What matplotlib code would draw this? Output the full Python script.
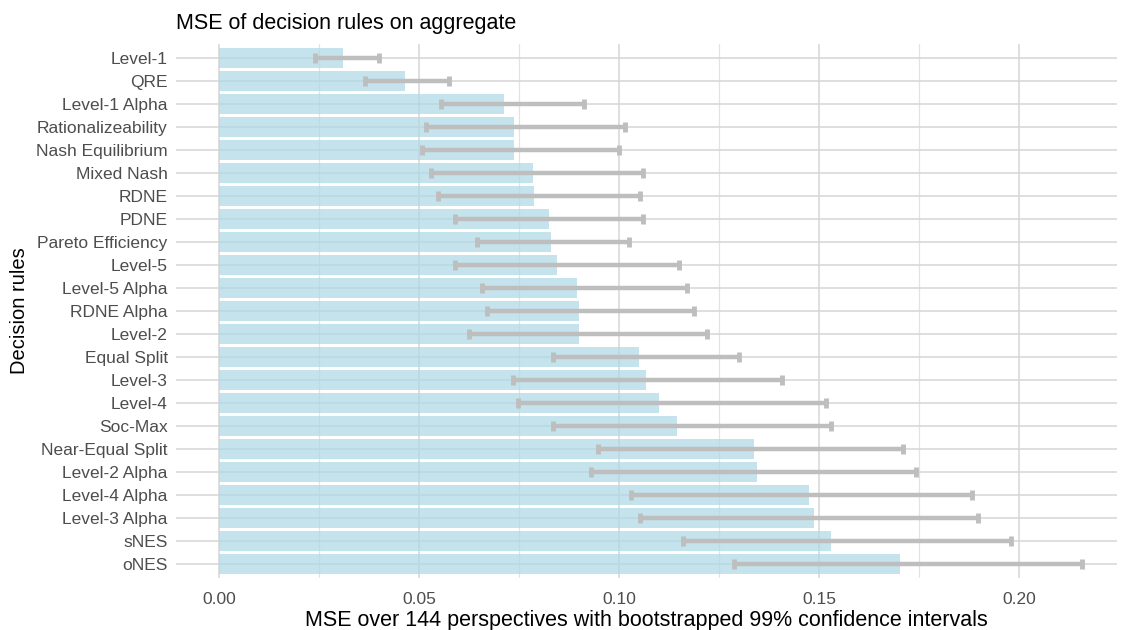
import numpy as np
import matplotlib.pyplot as plt
from matplotlib.ticker import MultipleLocator

plt.rcParams['font.family'] = ['Liberation Sans', 'DejaVu Sans']

rules = ["Level-1", "QRE", "Level-1 Alpha", "Rationalizeability", "Nash Equilibrium",
         "Mixed Nash", "RDNE", "PDNE", "Pareto Efficiency", "Level-5", "Level-5 Alpha",
         "RDNE Alpha", "Level-2", "Equal Split", "Level-3", "Level-4", "Soc-Max",
         "Near-Equal Split", "Level-2 Alpha", "Level-4 Alpha", "Level-3 Alpha", "sNES", "oNES"]
mse = [0.0310, 0.0463, 0.0711, 0.0736, 0.0736, 0.0785, 0.0786, 0.0824, 0.0828, 0.0843,
       0.0893, 0.0898, 0.0898, 0.1048, 0.1066, 0.1100, 0.1143, 0.1336, 0.1345, 0.1475,
       0.1486, 0.1528, 0.1701]
ci_low = [0.0239, 0.0365, 0.0553, 0.0517, 0.0506, 0.0528, 0.0546, 0.0590, 0.0643, 0.0590,
          0.0657, 0.0670, 0.0623, 0.0833, 0.0733, 0.0747, 0.0835, 0.0947, 0.0930, 0.1030,
          0.1052, 0.1160, 0.1286]
ci_high = [0.0400, 0.0574, 0.0911, 0.1014, 0.0999, 0.1058, 0.1051, 0.1058, 0.1025, 0.1150,
           0.1169, 0.1187, 0.1218, 0.1300, 0.1406, 0.1516, 0.1528, 0.1708, 0.1742, 0.1882,
           0.1896, 0.1980, 0.2156]

fig = plt.figure(figsize=(11.23, 6.30), dpi=100)
ax = fig.add_axes([0.1567, 0.0825, 0.838, 0.8476])

y = np.arange(len(rules))
m = np.array(mse)
ax.barh(y, mse, height=0.88, color='lightblue', alpha=0.7, zorder=2)
ax.errorbar(mse, y, xerr=[m - np.array(ci_low), np.array(ci_high) - m],
            fmt='none', ecolor='#bebebe', elinewidth=3.2, capsize=3.5, capthick=3.5, zorder=3)

ax.set_xlim(-0.010875, 0.2244)
ax.set_ylim(len(rules) - 0.4, -0.6)
ax.set_yticks(y)
ax.set_yticklabels(rules)
ax.xaxis.set_major_locator(MultipleLocator(0.05))
ax.xaxis.set_minor_locator(MultipleLocator(0.025))
ax.xaxis.set_major_formatter(plt.FuncFormatter(lambda v, p: f"{v:.2f}"))

ax.grid(which='major', color='#d6d6d6', linewidth=1.1)
ax.grid(which='minor', axis='x', color='#e3e3e3', linewidth=0.9)
ax.set_axisbelow(True)
for s in ax.spines.values():
    s.set_visible(False)
ax.tick_params(which='both', length=0, labelsize=12.5, labelcolor='#4d4d4d')
ax.tick_params(axis='y', pad=6)
ax.tick_params(axis='x', pad=10)

ax.set_xlabel("MSE over 144 perspectives with bootstrapped 99% confidence intervals",
              fontsize=15.5, labelpad=2)
ax.set_ylabel("Decision rules", fontsize=14.5, labelpad=5)
ax.set_title("MSE of decision rules on aggregate", loc='left', fontsize=15.5, pad=11)

fig.savefig("out.png", dpi=100)
